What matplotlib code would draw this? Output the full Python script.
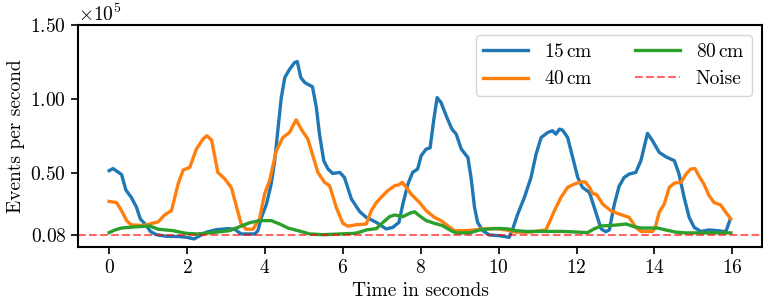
import matplotlib
matplotlib.use("Agg")
import matplotlib.pyplot as plt
import numpy as np

plt.rcParams['font.family'] = 'serif'
plt.rcParams['font.serif'] = ['cmr10']
plt.rcParams['mathtext.fontset'] = 'cm'
plt.rcParams['axes.formatter.use_mathtext'] = True
plt.rcParams['font.size'] = 14

SCALE = 1e5  # values below are in units of 1e5 events/s

t_15 = [0.0, 0.10, 0.32, 0.43, 0.57, 0.70, 0.80, 0.94, 1.06, 1.21, 1.47, 1.81, 2.0, 2.18, 2.33, 2.50, 2.75, 3.05, 3.22, 3.39,
        3.56, 3.74, 3.82, 3.91, 4.04, 4.16, 4.25, 4.33, 4.42, 4.51, 4.63, 4.76, 4.83, 4.92, 5.02, 5.22, 5.32, 5.40, 5.51, 5.62,
        5.74, 5.92, 6.04, 6.22, 6.43, 6.60, 6.86, 7.11, 7.28, 7.44, 7.54, 7.67, 7.79, 7.92, 8.01, 8.14, 8.24, 8.33, 8.42, 8.52,
        8.67, 8.80, 8.91, 9.04, 9.21, 9.29, 9.38, 9.46, 9.59, 9.76, 10.02, 10.27, 10.36, 10.49, 10.66, 10.83, 10.96, 11.09, 11.26, 11.38,
        11.47, 11.56, 11.64, 11.77, 11.90, 12.03, 12.15, 12.33, 12.48, 12.63, 12.75, 12.84, 12.97, 13.09, 13.22, 13.35, 13.52, 13.65, 13.82, 13.95,
        14.12, 14.29, 14.51, 14.63, 14.76, 14.89, 15.02, 15.19, 15.40, 15.62, 15.83, 15.94]
v_15 = [0.516, 0.53, 0.49, 0.385, 0.335, 0.27, 0.19, 0.15, 0.105, 0.083, 0.072, 0.07, 0.065, 0.054, 0.076, 0.10, 0.117, 0.124, 0.12, 0.088,
        0.088, 0.088, 0.11, 0.20, 0.29, 0.425, 0.583, 0.786, 1.01, 1.146, 1.20, 1.247, 1.254, 1.146, 1.112, 1.083, 0.943, 0.763, 0.583, 0.527,
        0.497, 0.504, 0.47, 0.324, 0.240, 0.20, 0.166, 0.122, 0.132, 0.166, 0.29, 0.425, 0.504, 0.527, 0.617, 0.662, 0.67, 0.853, 1.01, 0.977,
        0.876, 0.797, 0.763, 0.662, 0.605, 0.47, 0.268, 0.166, 0.11, 0.081, 0.076, 0.065, 0.122, 0.223, 0.335, 0.47, 0.628, 0.74, 0.774, 0.786,
        0.763, 0.797, 0.79, 0.74, 0.605, 0.47, 0.403, 0.369, 0.245, 0.122, 0.103, 0.115, 0.29, 0.41, 0.47, 0.493, 0.504, 0.583, 0.768, 0.718,
        0.64, 0.61, 0.583, 0.493, 0.335, 0.20, 0.132, 0.105, 0.115, 0.11, 0.103, 0.184]

t_40 = [0.0, 0.19, 0.32, 0.45, 0.57, 0.87, 1.04, 1.26, 1.43, 1.60, 1.77, 1.90, 2.07, 2.24, 2.41, 2.51, 2.63, 2.79, 2.97, 3.14,
        3.39, 3.52, 3.69, 3.86, 3.99, 4.12, 4.29, 4.46, 4.63, 4.80, 4.93, 5.10, 5.23, 5.36, 5.53, 5.66, 5.83, 6.0, 6.13, 6.34,
        6.60, 6.73, 6.86, 6.98, 7.15, 7.33, 7.44, 7.52, 7.63, 7.75, 7.97, 8.14, 8.35, 8.52, 8.69, 8.86, 9.16, 9.38, 9.59, 9.89,
        10.19, 10.45, 10.79, 11.21, 11.30, 11.43, 11.60, 11.77, 11.94, 12.11, 12.22, 12.33, 12.41, 12.51, 12.67, 12.88, 13.09, 13.35, 13.52, 13.65,
        13.95, 14.02, 14.12, 14.25, 14.38, 14.51, 14.68, 14.81, 14.93, 15.04, 15.14, 15.27, 15.40, 15.53, 15.70, 15.83, 15.96]
v_40 = [0.308, 0.30, 0.245, 0.178, 0.149, 0.145, 0.155, 0.17, 0.218, 0.245, 0.425, 0.52, 0.538, 0.662, 0.73, 0.752, 0.723, 0.504, 0.46, 0.40,
        0.155, 0.12, 0.12, 0.19, 0.358, 0.448, 0.65, 0.74, 0.774, 0.86, 0.797, 0.73, 0.617, 0.504, 0.437, 0.414, 0.268, 0.16, 0.14, 0.15,
        0.155, 0.245, 0.30, 0.335, 0.38, 0.414, 0.42, 0.437, 0.403, 0.358, 0.30, 0.245, 0.20, 0.178, 0.144, 0.11, 0.11, 0.115, 0.122, 0.125,
        0.115, 0.10, 0.10, 0.115, 0.166, 0.245, 0.335, 0.403, 0.425, 0.44, 0.44, 0.403, 0.362, 0.355, 0.29, 0.245, 0.223, 0.20, 0.132, 0.105,
        0.105, 0.132, 0.234, 0.29, 0.403, 0.432, 0.437, 0.493, 0.527, 0.53, 0.48, 0.425, 0.347, 0.30, 0.284, 0.234, 0.19]

t_80 = [0.0, 0.15, 0.32, 0.62, 1.04, 1.26, 1.64, 1.98, 2.24, 2.58, 2.92, 3.09, 3.35, 3.61, 3.86, 4.16, 4.38, 4.59, 4.85, 5.15,
        5.49, 5.92, 6.30, 6.43, 6.60, 6.86, 7.03, 7.20, 7.33, 7.54, 7.71, 7.84, 7.97, 8.14, 8.35, 8.56, 8.78, 8.91, 9.25, 9.51,
        9.76, 10.02, 10.23, 10.45, 10.70, 11.21, 11.64, 12.07, 12.28, 12.45, 12.63, 12.92, 13.09, 13.27, 13.48, 13.65, 13.91, 14.08, 14.29, 14.55,
        14.80, 15.32, 15.96]
v_80 = [0.097, 0.115, 0.128, 0.135, 0.142, 0.12, 0.11, 0.092, 0.088, 0.095, 0.105, 0.11, 0.137, 0.164, 0.178, 0.178, 0.155, 0.128, 0.11, 0.088,
        0.083, 0.088, 0.092, 0.10, 0.115, 0.124, 0.166, 0.205, 0.216, 0.205, 0.227, 0.238, 0.21, 0.178, 0.16, 0.144, 0.11, 0.095, 0.095, 0.115,
        0.122, 0.125, 0.122, 0.11, 0.105, 0.105, 0.105, 0.10, 0.097, 0.122, 0.142, 0.146, 0.15, 0.155, 0.137, 0.128, 0.128, 0.128, 0.115, 0.10,
        0.095, 0.095, 0.095]

noise_level = 0.08
y_ticks = [0.08, 0.50, 1.00, 1.50]
x_ticks = [0, 2, 4, 6, 8, 10, 12, 14, 16]

fig, ax = plt.subplots(figsize=(7.65, 3.03), dpi=100)
fig.subplots_adjust(left=0.102, right=0.996, top=0.917, bottom=0.185)

lw = 2.4
ax.plot(t_15, np.array(v_15) * SCALE, color="#1f77b4", lw=lw, label=r"15$\,$cm")
ax.plot(t_40, np.array(v_40) * SCALE, color="#ff7f0e", lw=lw, label=r"40$\,$cm")
ax.plot(t_80, np.array(v_80) * SCALE, color="#2ca02c", lw=lw, label=r"80$\,$cm")
ax.axhline(noise_level * SCALE, color="red", alpha=0.6, ls="--", lw=1.5, label="Noise")

ax.set_ylim(0, 1.5 * SCALE)
ax.set_yticks(np.array(y_ticks) * SCALE)
ax.set_xticks(x_ticks)
ax.set_xlabel("Time in seconds")
ax.set_ylabel("Events per second")
ax.ticklabel_format(axis="y", style="sci", scilimits=(0, 0))

for s in ax.spines.values():
  s.set_linewidth(1.5)
ax.tick_params(width=1.2, length=5)

ax.legend(loc="upper right", ncol=2, handlelength=2.3, columnspacing=2.2)

fig.savefig("out.png")
